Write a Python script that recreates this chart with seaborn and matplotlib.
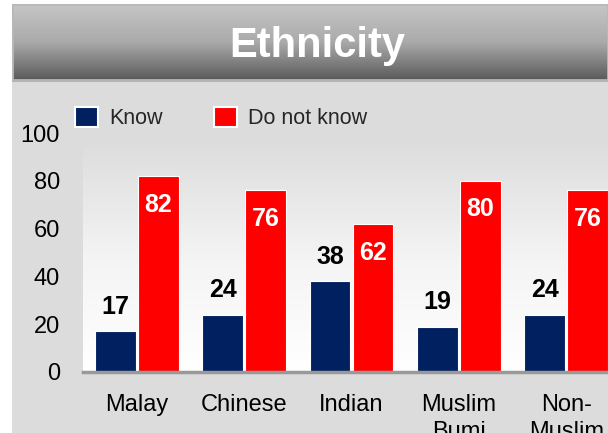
import numpy as np
import pandas as pd
import matplotlib
matplotlib.use("Agg")
import matplotlib.pyplot as plt
from matplotlib.patches import Rectangle, Patch
from matplotlib.colors import LinearSegmentedColormap
import seaborn as sns

categories = ["Malay", "Chinese", "Indian", "Muslim\nBumi", "Non-\nMuslim"]
series_names = ["Know", "Do not know"]
know = [17, 24, 38, 19, 24]
dont_know = [82, 76, 62, 80, 76]
yticks = [0, 20, 40, 60, 80, 100]
title = "Ethnicity"

navy = "#002060"
red = "#FF0000"

sns.set_theme(style="white")
plt.rcParams["font.family"] = ["Liberation Sans", "DejaVu Sans"]

df = pd.DataFrame({
    "cat": categories * 2,
    "series": [series_names[0]] * len(categories) + [series_names[1]] * len(categories),
    "val": know + dont_know,
})

W, H = 608, 433
fig = plt.figure(figsize=(W / 100, H / 100), dpi=100)
fig.patch.set_facecolor("white")

def fx(px):
    return px / W

def fy(py):
    return 1 - py / H

# grey panel
fig.patches.append(Rectangle((fx(12), 0), 1, fy(82), transform=fig.transFigure,
                             facecolor="#dcdcdc", edgecolor="none", zorder=-2))
fig.patches.append(Rectangle((fx(12), fy(82)), 1, 2 / H, transform=fig.transFigure,
                             facecolor="#b4b4b4", edgecolor="none", zorder=-2))

# banner gradient
bax = fig.add_axes([fx(12), fy(80), 1 - fx(12), fy(4) - fy(80)])
grad = np.linspace(0, 1, 256).reshape(-1, 1)
bcmap = LinearSegmentedColormap.from_list("b", ["#c6c6c6", "#aaaaaa", "#5a5a5a"])
bax.imshow(grad, aspect="auto", cmap=bcmap, extent=(0, 1, 0, 1), origin="upper")
bax.set_axis_off()
bax.add_patch(Rectangle((0, 0), 1, 1, transform=bax.transAxes, fill=False,
                        edgecolor="#b8b8b8", lw=2))
fig.text(fx(317), fy(46), title, color="white", fontsize=30, fontweight="bold",
         ha="center", va="center")

# main axes
ax_left, ax_right = 83, 620
ax_bottom, ax_top = 372, 133
ax = fig.add_axes([fx(ax_left), fy(ax_bottom), fx(ax_right - ax_left), (ax_bottom - ax_top) / H])
ax.set_facecolor("none")
ax.set_zorder(1)

sns.barplot(data=df, x="cat", y="val", hue="series", palette=[navy, red],
            saturation=1, width=0.8, gap=0.05, edgecolor="white", linewidth=0.8,
            ax=ax, legend=False, zorder=3)

# plot area gradient
pcmap = LinearSegmentedColormap.from_list("p", ["#dedede", "#f4f4f4", "#ffffff"])
ax.imshow(grad, aspect="auto", cmap=pcmap, extent=(-0.5, len(categories) - 0.5, 0, 94),
          origin="upper", zorder=0)
ax.set_xlim(-0.5, len(categories) - 0.5)
ax.set_ylim(0, 100)

ax.set_yticks(yticks)
ax.set_yticklabels([str(t) for t in yticks], fontsize=17)
ax.tick_params(axis="y", length=0, pad=16.5, labelcolor="black")
ax.tick_params(axis="x", length=0, pad=15.5, labelsize=17, labelcolor="black")
for lab in ax.get_xticklabels():
    lab.set_linespacing(1.3)
ax.set_xlabel("")
ax.set_ylabel("")
for side in ["left", "top", "right"]:
    ax.spines[side].set_visible(False)
ax.spines["bottom"].set_color("#999999")
ax.spines["bottom"].set_linewidth(2.5)
ax.spines["bottom"].set_zorder(5)

# value labels
know_bars = ax.containers[0]
dk_bars = ax.containers[1]
for bar, v in zip(know_bars, know):
    ax.text(bar.get_x() + bar.get_width() / 2, v + 10.3, f"{v}", ha="center", va="center",
            fontsize=18, fontweight="bold", color="black", zorder=6)
for bar, v in zip(dk_bars, dont_know):
    ax.text(bar.get_x() + bar.get_width() / 2, v - 12, f"{v}", ha="center", va="center",
            fontsize=18, fontweight="bold", color="white", zorder=6)

handles = [Patch(facecolor=navy, edgecolor="white", lw=1.5),
           Patch(facecolor=red, edgecolor="white", lw=1.5)]
fig.legend(handles, series_names, loc="upper left", bbox_to_anchor=(fx(75), fy(107)),
           ncol=2, frameon=False, fontsize=15.5, handlelength=1.07, handleheight=1.07,
           handletextpad=0.5, columnspacing=2.4, borderpad=0, borderaxespad=0)

fig.savefig("out.png", dpi=100)
